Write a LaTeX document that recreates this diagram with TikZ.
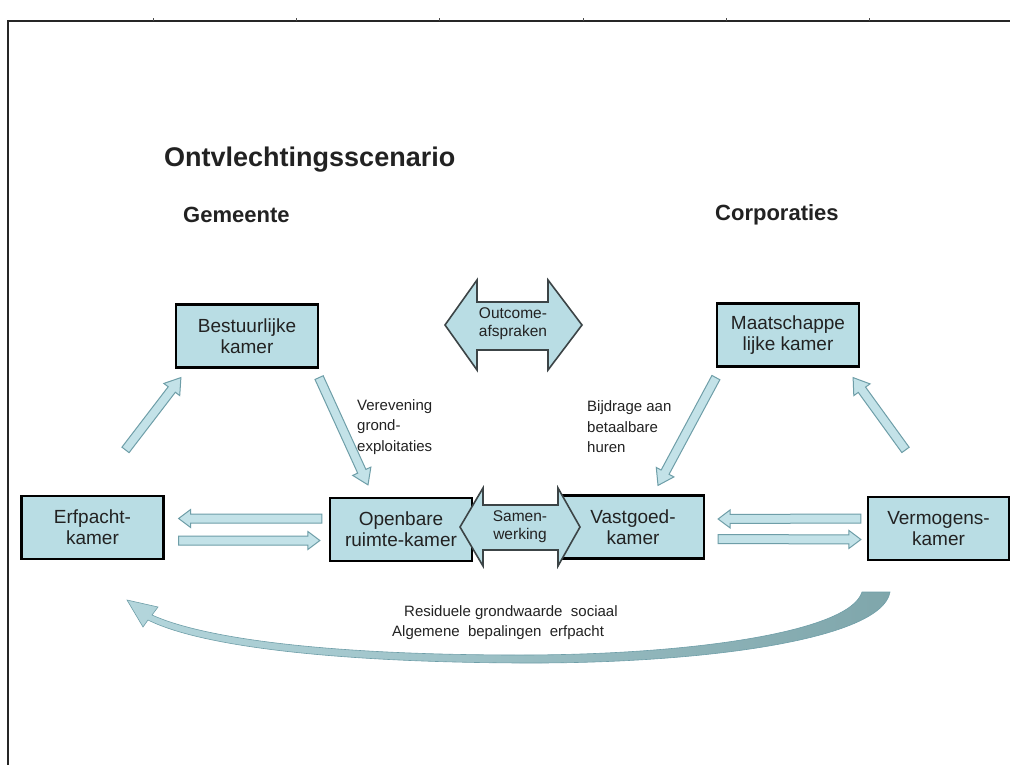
\documentclass[tikz,border=0pt]{standalone}
\usepackage{fontspec}
\setmainfont{Liberation Sans}
\usetikzlibrary{calc}

\definecolor{boxfill}{HTML}{B9DDE4}
\definecolor{arrowfill}{HTML}{C3E2E8}
\definecolor{arrowedge}{HTML}{6E9EA8}
\definecolor{bigedge}{HTML}{3C4446}
\definecolor{curvedark}{HTML}{7FA6AB}
\definecolor{curvelight}{HTML}{B4D6DC}
\definecolor{textc}{HTML}{222222}

% block arrow from #1 to #2: half shaft width #3, head length #4, half head width #5
\newcommand{\blockarrow}[5]{%
  \path (#1) coordinate (ba-s) (#2) coordinate (ba-t);
  \path ($(ba-t)!#4!(ba-s)$) coordinate (ba-h);
  \draw[flatarrow] ($(ba-s)!#3!90:(ba-t)$) -- ($(ba-h)!#3!-90:(ba-s)$)
    -- ($(ba-h)!#5!-90:(ba-s)$) -- (ba-t) -- ($(ba-h)!#5!90:(ba-s)$)
    -- ($(ba-h)!#3!90:(ba-s)$) -- ($(ba-s)!#3!-90:(ba-t)$) -- cycle;
}

\tikzset{
  kamer/.style={draw=black, line width=2.2pt, fill=boxfill, rectangle,
    minimum width=142pt, minimum height=63pt, inner sep=0pt, align=center,
    text=textc, font=\fontsize{19}{21}\selectfont},
  flatarrow/.style={draw=arrowedge, line width=1pt, fill=arrowfill, line join=miter},
  bigarrow/.style={draw=bigedge, line width=1.6pt, fill=boxfill, line join=miter},
  label/.style={anchor=west, align=left, text=textc, inner sep=0pt,
    font=\fontsize{15}{20.5}\selectfont},
  inarrow/.style={align=center, text=textc, inner sep=0pt,
    font=\fontsize{15.5}{18}\selectfont},
  heading/.style={anchor=west, inner sep=0pt, text=textc}
}

\begin{document}
\begin{tikzpicture}[x=1pt, y=-1pt]
  \useasboundingbox (0,0) rectangle (1010,765);
  \fill[white] (0,0) rectangle (1010,765);

  % page frame
  \draw[line width=1.8pt, black!85] (8,770) -- (8,21) -- (1014,21);
  \foreach \tx in {153,296,439,583,726,869}
    \draw[line width=0.6pt, black!70] (\tx,21) -- (\tx,18);

  % headings
  \node[heading, font=\fontsize{27}{30}\selectfont\bfseries] (title) at (164,160) {Ontvlechtingsscenario};
  \node[heading, font=\fontsize{22}{26}\selectfont\bfseries] (gem) at (183,215) {Gemeente};
  \node[heading, font=\fontsize{22}{26}\selectfont\bfseries] (corp) at (715,215) {Corporaties};

  % chambers
  \node[kamer] (best) at (247,336) {Bestuurlijke\\kamer};
  \node[kamer] (maat) at (788,335) {Maatschappe\\lijke kamer};
  \node[kamer] (erf)  at (92.5,527.5) {Erfpacht-\\kamer};
  \node[kamer] (open) at (401,529.5) {Openbare\\ruimte-kamer};
  \node[kamer] (vast) at (633,527) {Vastgoed-\\kamer};
  \node[kamer, minimum width=141pt] (verm) at (938.5,528.5) {Vermogens-\\kamer};

  % arrow end points next to the chambers
  \coordinate (e-top)  at ($(erf.north)+(33,-45)$);
  \coordinate (b-sw)   at ($(best.south west)+(6,9)$);
  \coordinate (b-se)   at ($(best.south east)+(0,9)$);
  \coordinate (o-top)  at ($(open.north)+(-33,-12)$);
  \coordinate (m-sw)   at ($(maat.south west)+(0,10)$);
  \coordinate (v-top)  at ($(vast.north)+(25,-9)$);
  \coordinate (m-se)   at ($(maat.south east)+(-7,10)$);
  \coordinate (r-top)  at ($(verm.north)+(-33,-46)$);

  % vertical flows
  \blockarrow{e-top}{b-sw}{4.5pt}{15pt}{10pt}
  \blockarrow{b-se}{o-top}{4.5pt}{15pt}{10pt}
  \blockarrow{m-sw}{v-top}{4.5pt}{15pt}{10pt}
  \blockarrow{r-top}{m-se}{4.5pt}{15pt}{10pt}

  % horizontal flows
  \coordinate (e-r1) at ($(erf.east)+(14,-9)$);
  \coordinate (e-r2) at ($(erf.east)+(14,13)$);
  \coordinate (o-l1) at ($(open.west)+(-7,-11)$);
  \coordinate (o-l2) at ($(open.west)+(-9,11)$);
  \blockarrow{o-l1}{e-r1}{4.5pt}{12pt}{9pt}
  \blockarrow{e-r2}{o-l2}{4.5pt}{12pt}{9pt}
  \coordinate (v-r1) at ($(vast.east)+(13,-8)$);
  \coordinate (v-r2) at ($(vast.east)+(13,12)$);
  \coordinate (r-l1) at ($(verm.west)+(-6,-10)$);
  \coordinate (r-l2) at ($(verm.west)+(-6,11)$);
  \blockarrow{r-l1}{v-r1}{4.5pt}{12pt}{9pt}
  \blockarrow{v-r2}{r-l2}{4.5pt}{12pt}{9pt}

  % agreement arrow between the two parties
  \draw[bigarrow] (445,325) -- (477,280) -- (477,302) -- (548,302) -- (548,280)
    -- (582,325) -- (548,370) -- (548,350) -- (477,350) -- (477,370) -- cycle;
  \node[inarrow] (outc) at (513,324) {Outcome-\\afspraken};

  % cooperation arrow between the two middle chambers
  \draw[bigarrow] (460,527) -- (483,488) -- (483,505) -- (558,505) -- (558,488)
    -- (580,527) -- (558,566) -- (558,550) -- (483,550) -- (483,566) -- cycle;
  \node[inarrow] (samen) at (520,527) {Samen-\\werking};

  % flow labels
  \node[label] (vere) at (357,427) {Verevening\\grond-\\exploitaties};
  \node[label] (bijd) at (587,427) {Bijdrage aan\\betaalbare\\huren};

  % curved return flow from Vermogenskamer to Erfpachtkamer
  \shade[left color=curvelight, right color=curvedark, draw=arrowedge, line width=0.6pt]
    (890,592) .. controls (882,640) and (700,664) .. (520,663)
    .. controls (330,662) and (200,646) .. (148,620)
    -- (143,627) -- (127,600) -- (158,607) -- (152,615)
    .. controls (205,639) and (330,655) .. (520,655)
    .. controls (690,655) and (850,632) .. (862,592) -- cycle;
  \node[inarrow, font=\fontsize{15}{20}\selectfont, align=left, anchor=west] (resid) at (392,623)
    {\hspace*{12pt}Residuele grondwaarde\ \ sociaal\\Algemene\ \ bepalingen\ \ erfpacht};
\end{tikzpicture}
\end{document}
